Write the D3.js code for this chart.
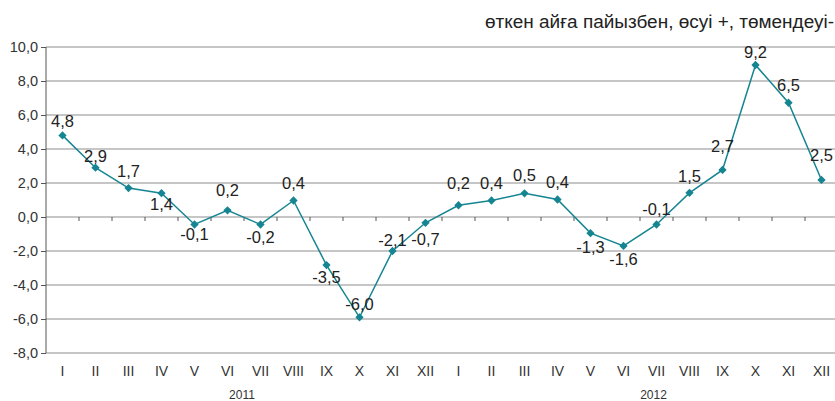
<!DOCTYPE html>
<html><head><meta charset="utf-8">
<script src="https://cdn.jsdelivr.net/npm/d3@7"></script>
<style>body{margin:0;background:#fff}svg{display:block;font-family:"Liberation Sans",Arial,sans-serif}</style>
</head><body><svg id="c" width="835" height="401"></svg>
<script>
const months = ["I","II","III","IV","V","VI","VII","VIII","IX","X","XI","XII","I","II","III","IV","V","VI","VII","VIII","IX","X","XI","XII"];
const values = [4.8,2.9,1.7,1.4,-0.44,0.39,-0.44,0.97,-2.83,-5.9,-2.0,-0.34,0.69,0.97,1.39,1.03,-0.95,-1.7,-0.44,1.42,2.77,8.94,6.72,2.18];
const labels = ["4,8","2,9","1,7","1,4","-0,1","0,2","-0,2","0,4","-3,5","-6,0","-2,1","-0,7","0,2","0,4","0,5","0,4","-1,3","-1,6","-0,1","1,5","2,7","9,2","6,5","2,5"];
const yTicks = [10,8,6,4,2,0,-2,-4,-6,-8];
const years = ["2011","2012"];
const title = "өткен айға пайызбен, өсуі +, төмендеуі-";

// label placement (layout only): baseline offset from the marker, px
const labelDy = [-8,-6,-11,17,16,-14,19,-12,18,-7,-5,22,-16,-12,-12,-11,20,19,-9,-11,-18,-7,-12,-19];

const svg = d3.select("#c");
const idx = d3.range(months.length);
const x = d3.scaleBand().domain(idx).range([46, 46 + 33*24]);
const y = d3.scaleLinear().domain([-8,10]).range([353,47]);
const cx = i => x(i) + x.bandwidth()/2;

// gridlines
svg.append("g").selectAll("line").data(yTicks).join("line")
  .attr("x1",46).attr("x2",835).attr("y1",d=>y(d)).attr("y2",d=>y(d))
  .attr("stroke","#c6c6c6").attr("stroke-width",2);

// y axis
const ya = svg.append("g").attr("transform","translate(46,0)")
  .call(d3.axisLeft(y).tickValues(yTicks).tickSize(5).tickPadding(3)
    .tickFormat(d=>d3.format(".1f")(d).replace(".",",").replace("−","-")));
ya.select(".domain").attr("stroke","#555").attr("d","M0,47V353");
ya.selectAll(".tick line").attr("stroke","#555");
ya.selectAll("text").attr("font-size",14.5).attr("fill","#333").attr("font-family","Liberation Sans, Arial, sans-serif");

// x ticks on zero line (band boundaries)
svg.append("g").selectAll("line").data(d3.range(1,24)).join("line")
  .attr("x1",i=>x(i)).attr("x2",i=>x(i)).attr("y1",y(0)).attr("y2",y(0)+4)
  .attr("stroke","#555");

// month labels
svg.append("g").selectAll("text").data(idx).join("text")
  .attr("x",cx).attr("y",376).attr("text-anchor","middle")
  .attr("font-size",14).attr("fill","#333").text(i=>months[i]);

// years
svg.append("g").selectAll("text").data(years).join("text")
  .attr("x",(d,k)=> k===0 ? (cx(5)+cx(6))/2 - 2 : cx(18) - 3)
  .attr("y",399).attr("text-anchor","middle")
  .attr("font-size",12).attr("fill","#333").text(d=>d);

// title
svg.append("text").attr("x",834).attr("y",28).attr("text-anchor","end")
  .attr("font-size",17.5).attr("fill","#222")
  .attr("textLength",349).attr("lengthAdjust","spacingAndGlyphs").text(title);

// line
const col = "#168592";
svg.append("path").datum(idx)
  .attr("d", d3.line().x(cx).y(i=>y(values[i])))
  .attr("fill","none").attr("stroke",col).attr("stroke-width",1.5);

// markers
svg.append("g").selectAll("path").data(idx).join("path")
  .attr("transform",i=>`translate(${cx(i)},${y(values[i])})`)
  .attr("d", d3.symbol(d3.symbolDiamond2, 44)())
  .attr("fill",col);

// data labels
svg.append("g").selectAll("text").data(idx).join("text")
  .attr("x",cx).attr("y",i=> y(values[i]) + labelDy[i])
  .attr("text-anchor","middle").attr("font-size",16.5).attr("fill","#222")
  .text(i=>labels[i]);
</script></body></html>
